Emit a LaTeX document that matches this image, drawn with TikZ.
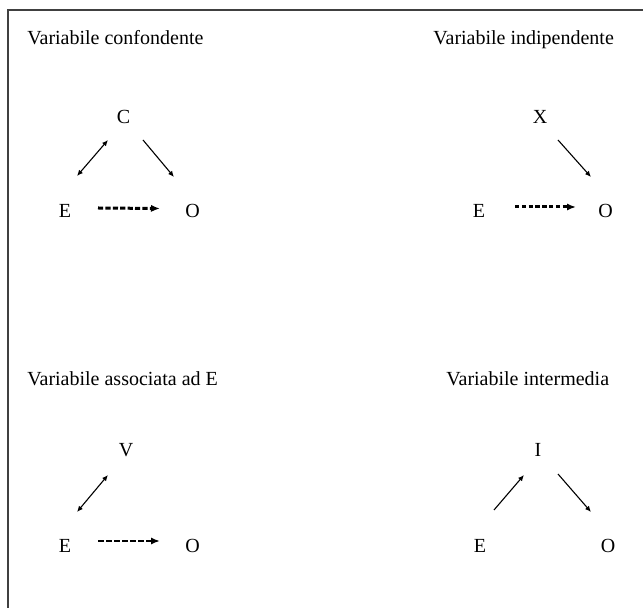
\documentclass[tikz,border=0pt]{standalone}
\usepackage{fontspec}
\setmainfont{Liberation Serif}
\usetikzlibrary{arrows.meta}

\begin{document}
\begin{tikzpicture}[x=0.5pt,y=-0.5pt,
  ttl/.style={inner sep=0pt,anchor=base west,font=\fontsize{10}{12}\selectfont},
  var/.style={inner sep=0pt,font=\fontsize{10}{12}\selectfont},
  arr/.style={-{Latex[length=3pt,width=2.6pt]},line width=.55pt},
  dbl/.style={{Latex[length=3pt,width=2.6pt]}-{Latex[length=3pt,width=2.6pt]},line width=.55pt},
  dsh/.style={-{Latex[length=4.5pt,width=3.6pt]},line width=1.5pt,dash pattern=on 2.6pt off 1.1pt}]
\useasboundingbox (0,0) rectangle (643,608);
\draw[line width=.6pt,black!75] (8,608)--(8,10)--(643,10);
% confondente
\node[ttl] (t1) at (27,45) {Variabile confondente};
\node[var] (c1) at (123.5,116.5) {C};
\node[var] (e1) at (65,210.5) {E};
\node[var] (o1) at (192.5,211) {O};
\draw[dbl] ([shift={(12,-34.5)}]e1.center)--([shift={(-15.5,23.5)}]c1.center);
\draw[arr] ([shift={(19.5,23.5)}]c1.center)--([shift={(-18.5,-34)}]o1.center);
\draw[dsh] ([shift={(33,-2.5)}]e1.center)--([shift={(-32.5,-2.5)}]o1.center);
% indipendente
\node[ttl] (t2) at (433,45) {Variabile indipendente};
\node[var] (x2) at (540,116.5) {X};
\node[var] (e2) at (479,211) {E};
\node[var] (o2) at (605.5,211) {O};
\draw[arr] ([shift={(18,23.5)}]x2.center)--([shift={(-14.5,-34)}]o2.center);
\draw[dsh,dash pattern=on 2.2pt off 1.2pt] ([shift={(36,-4)}]e2.center)--([shift={(-29.5,-4)}]o2.center);
% associata
\node[ttl] (t3) at (27,386) {Variabile associata ad E};
\node[var] (v3) at (126,450) {V};
\node[var] (e3) at (65,546) {E};
\node[var] (o3) at (192.5,546) {O};
\draw[dbl] ([shift={(12,-34)}]e3.center)--([shift={(-18,25)}]v3.center);
\draw[dsh,line width=1pt,dash pattern=on 2.8pt off 1.2pt] ([shift={(33,-5)}]e3.center)--([shift={(-32.5,-5)}]o3.center);
% intermedia
\node[ttl] (t4) at (446,386) {Variabile intermedia};
\node[var] (i4) at (538,450) {I};
\node[var] (e4) at (480,546) {E};
\node[var] (o4) at (608,546) {O};
\draw[arr] ([shift={(14,-36)}]e4.center)--([shift={(-14,25)}]i4.center);
\draw[arr] ([shift={(20,24)}]i4.center)--([shift={(-17,-34)}]o4.center);
\end{tikzpicture}
\end{document}
